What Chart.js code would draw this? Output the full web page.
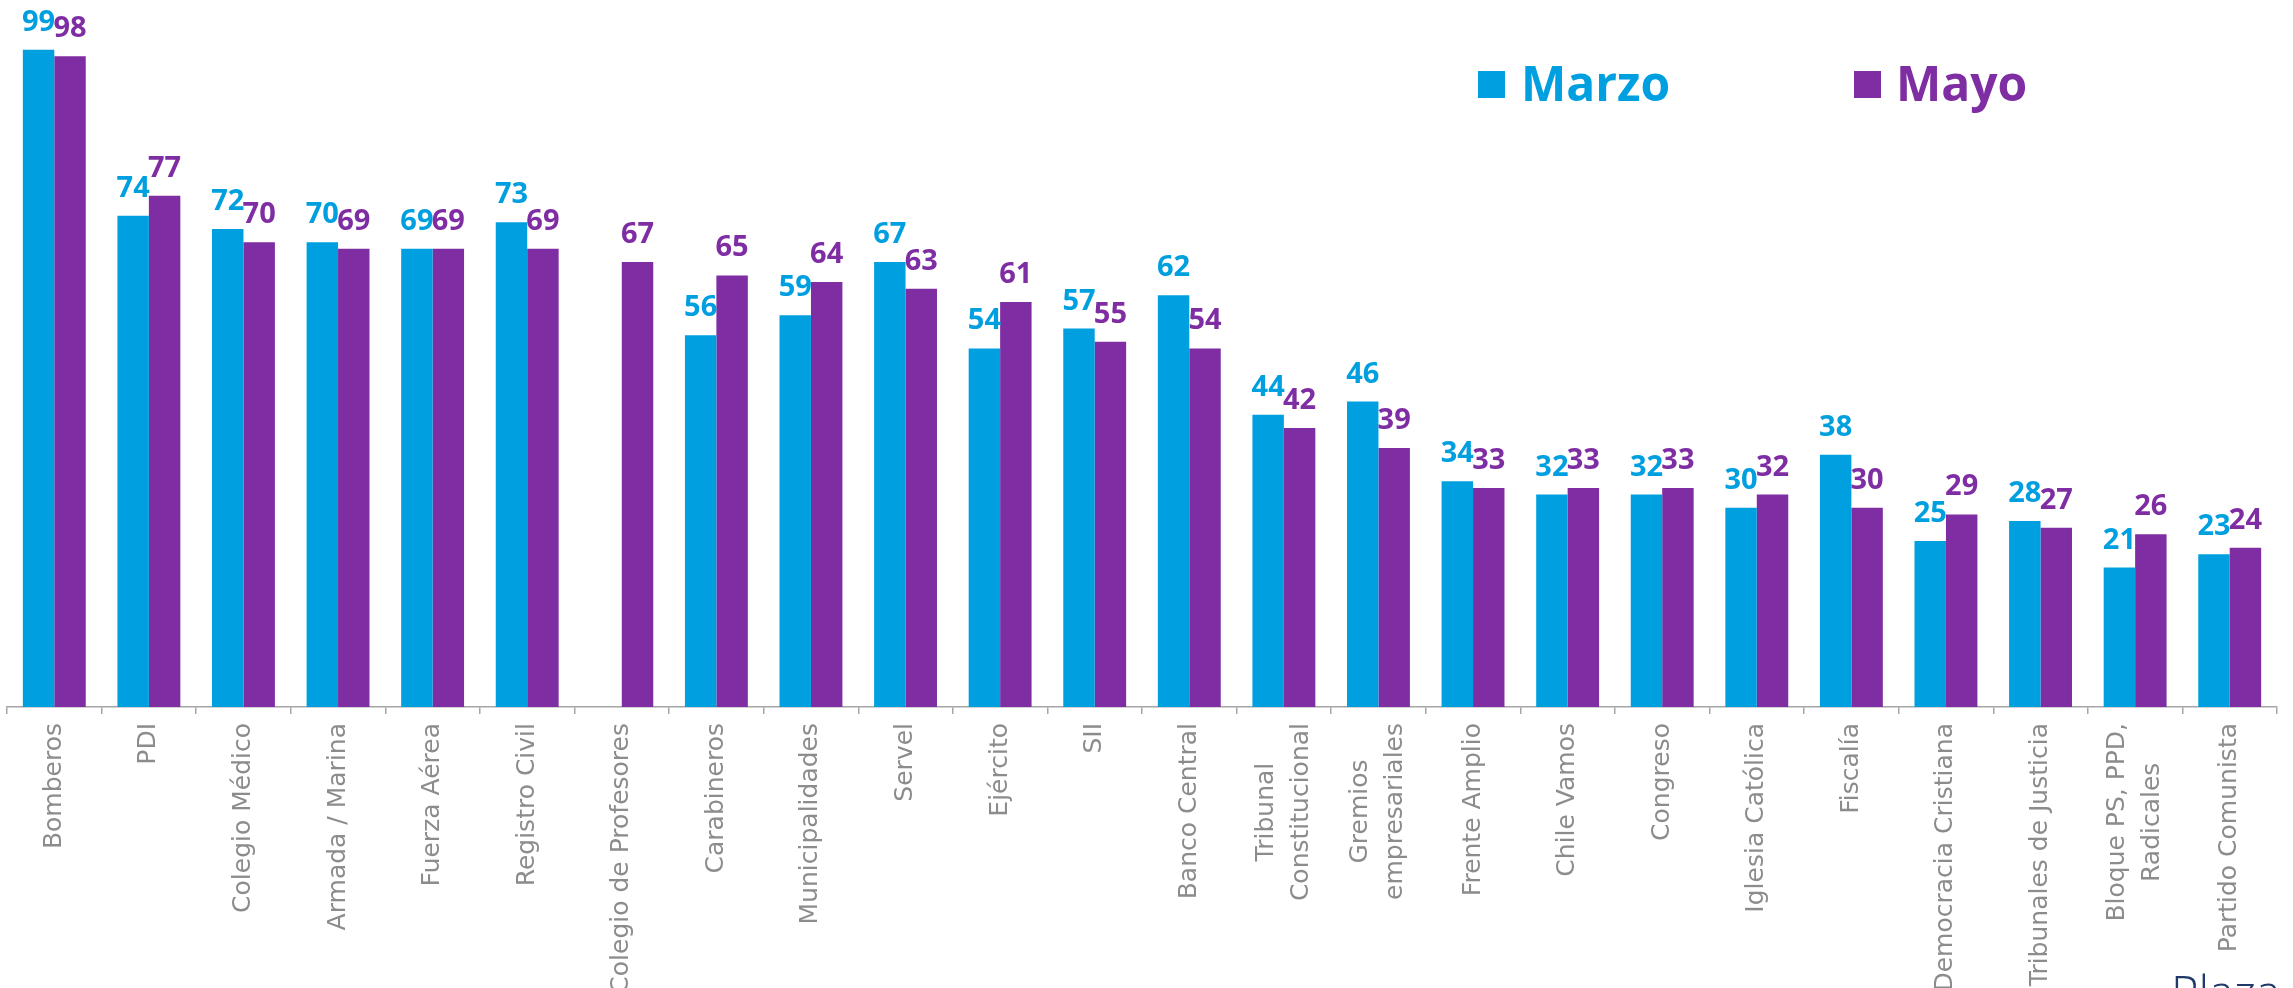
<!DOCTYPE html>
<html>
<head>
<meta charset="utf-8">
<script src="https://cdn.jsdelivr.net/npm/chart.js@4.4.1/dist/chart.umd.min.js"></script>
<style>
html,body{margin:0;padding:0;background:#ffffff;overflow:hidden}
#wrap{width:2293px;height:988px;position:relative}
</style>
</head>
<body>
<div id="wrap"><canvas id="c" width="2293" height="988"></canvas></div>
<script>
const categories = [
  'Bomberos', 'PDI', 'Colegio Médico', 'Armada / Marina', 'Fuerza Aérea',
  'Registro Civil', 'Colegio de Profesores', 'Carabineros', 'Municipalidades',
  'Servel', 'Ejército', 'SII', 'Banco Central', ['Tribunal', 'Constitucional'],
  ['Gremios', 'empresariales'], 'Frente Amplio', 'Chile Vamos', 'Congreso',
  'Iglesia Católica', 'Fiscalía', 'Democracia Cristiana', 'Tribunales de Justicia',
  ['Bloque PS, PPD,', 'Radicales'], 'Partido Comunista'
];
const marzo = [99, 74, 72, 70, 69, 73, null, 56, 59, 67, 54, 57, 62, 44, 46, 34, 32, 32, 30, 38, 25, 28, 21, 23];
const mayo  = [98, 77, 70, 69, 69, 69, 67, 65, 64, 63, 61, 55, 54, 42, 39, 33, 33, 33, 32, 30, 29, 27, 26, 24];
const seriesNames = ['Marzo', 'Mayo'];
const seriesColors = ['#009FDF', '#7F2DA3'];
const footerText = 'Plaza';

const valueLabels = {
  id: 'valueLabels',
  afterDatasetsDraw(chart) {
    const ctx = chart.ctx;
    ctx.save();
    ctx.font = 'bold 29px "Open Sans"';
    ctx.textAlign = 'center';
    ctx.textBaseline = 'alphabetic';
    chart.data.datasets.forEach((ds, i) => {
      const meta = chart.getDatasetMeta(i);
      ctx.fillStyle = ds.backgroundColor;
      meta.data.forEach((bar, j) => {
        const v = ds.data[j];
        if (v === null || v === undefined) return;
        ctx.fillText(String(v), bar.x, bar.y - 19);
      });
    });
    ctx.restore();
  }
};

const centerMultiLine = {
  id: 'centerMultiLine',
  beforeDraw(chart) {
    const xs = chart.scales.x;
    const items = xs.getLabelItems(chart.chartArea);
    const ctx = chart.ctx;
    items.forEach(it => {
      if (it._fixed) return;
      it._fixed = true;
      if (Array.isArray(it.label) && it.label.length > 1) {
        const lh = it.font.lineHeight;
        ctx.save();
        ctx.font = it.font.string;
        let maxW = 0;
        it.label.forEach(l => { maxW = Math.max(maxW, ctx.measureText(l).width); });
        ctx.restore();
        it.options.translation[0] -= (it.label.length - 1) * lh / 2;
        it.options.translation[1] += maxW / 2;
        it.options.textAlign = 'center';
      }
    });
  }
};

const customLegend = {
  id: 'customLegend',
  afterDraw(chart) {
    const ctx = chart.ctx;
    ctx.save();
    const pos = [[1478, 1521], [1854, 1896]];
    ctx.font = 'bold 48px "Open Sans"';
    ctx.textBaseline = 'alphabetic';
    ctx.textAlign = 'left';
    seriesNames.forEach((n, i) => {
      ctx.fillStyle = seriesColors[i];
      ctx.fillRect(pos[i][0], 71, 27, 27);
      ctx.fillText(n, pos[i][1], 101);
    });
    ctx.fillStyle = '#1F3A6A';
    ctx.font = '300 47px "Open Sans"';
    ctx.fillText(footerText, 2171, 1010);
    ctx.restore();
  }
};

new Chart(document.getElementById('c'), {
  type: 'bar',
  data: {
    labels: categories,
    datasets: [
      { label: seriesNames[0], data: marzo, backgroundColor: seriesColors[0], borderWidth: 0,
        categoryPercentage: 0.665, barPercentage: 1.0 },
      { label: seriesNames[1], data: mayo, backgroundColor: seriesColors[1], borderWidth: 0,
        categoryPercentage: 0.665, barPercentage: 1.0 }
    ]
  },
  options: {
    responsive: false,
    animation: false,
    devicePixelRatio: 1,
    layout: { padding: { left: 7, right: 16, top: 43, bottom: 0 } },
    plugins: { legend: { display: false }, tooltip: { enabled: false } },
    scales: {
      y: { display: false, min: 0, max: 100 },
      x: {
        afterFit(scale) { scale.height = 281; },
        border: { display: true, color: '#A6A6A6', width: 1.5 },
        grid: { display: true, drawOnChartArea: false, drawTicks: true, tickLength: 7,
                color: '#A6A6A6', lineWidth: 1.5, offset: true },
        ticks: {
          autoSkip: false, maxRotation: 90, minRotation: 90, padding: 9,
          color: '#8C8C8C',
          font: { family: '"DejaVu Sans"', size: 25, lineHeight: 1.4 }
        }
      }
    }
  },
  plugins: [valueLabels, centerMultiLine, customLegend]
});
</script>
</body>
</html>
